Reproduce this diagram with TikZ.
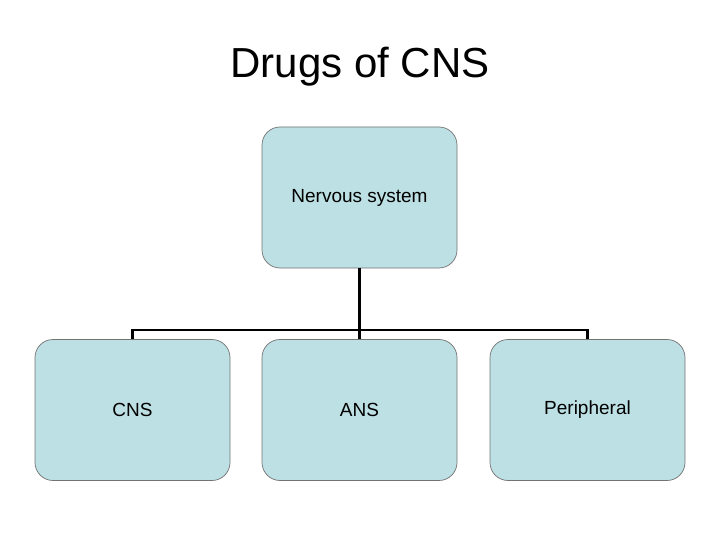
\documentclass[tikz,border=0pt]{standalone}
\usepackage{fontspec}
\setmainfont{Liberation Sans}
\begin{document}
\begin{tikzpicture}[x=1pt,y=-1pt,
  box/.style={draw=black!55,line width=0.7pt,fill={rgb,255:red,189;green,224;blue,228},rounded corners=18pt,minimum width=195pt,minimum height=141pt,font=\fontsize{19}{22}\selectfont,inner sep=0pt},
  conn/.style={line width=2.8pt,black}]
\useasboundingbox (0,0) rectangle (720,540);
\node[font=\fontsize{42}{48}\selectfont] (t) at (360,67) {Drugs of CNS};
\node[box] (ns) at (359.5,197.5) {Nervous system};
\node[box] (cns) at (132.5,410) {CNS};
\node[box] (ans) at (359.5,410) {ANS};
\node[box] (per) at (587.5,410) {Peripheral};
\coordinate (j) at (359.5,330);
\draw[conn] (ns.south) -- (j);
\draw[conn] (cns.north) |- (j) -| (per.north);
\draw[conn] (j) -- (ans.north);
\end{tikzpicture}
\end{document}
